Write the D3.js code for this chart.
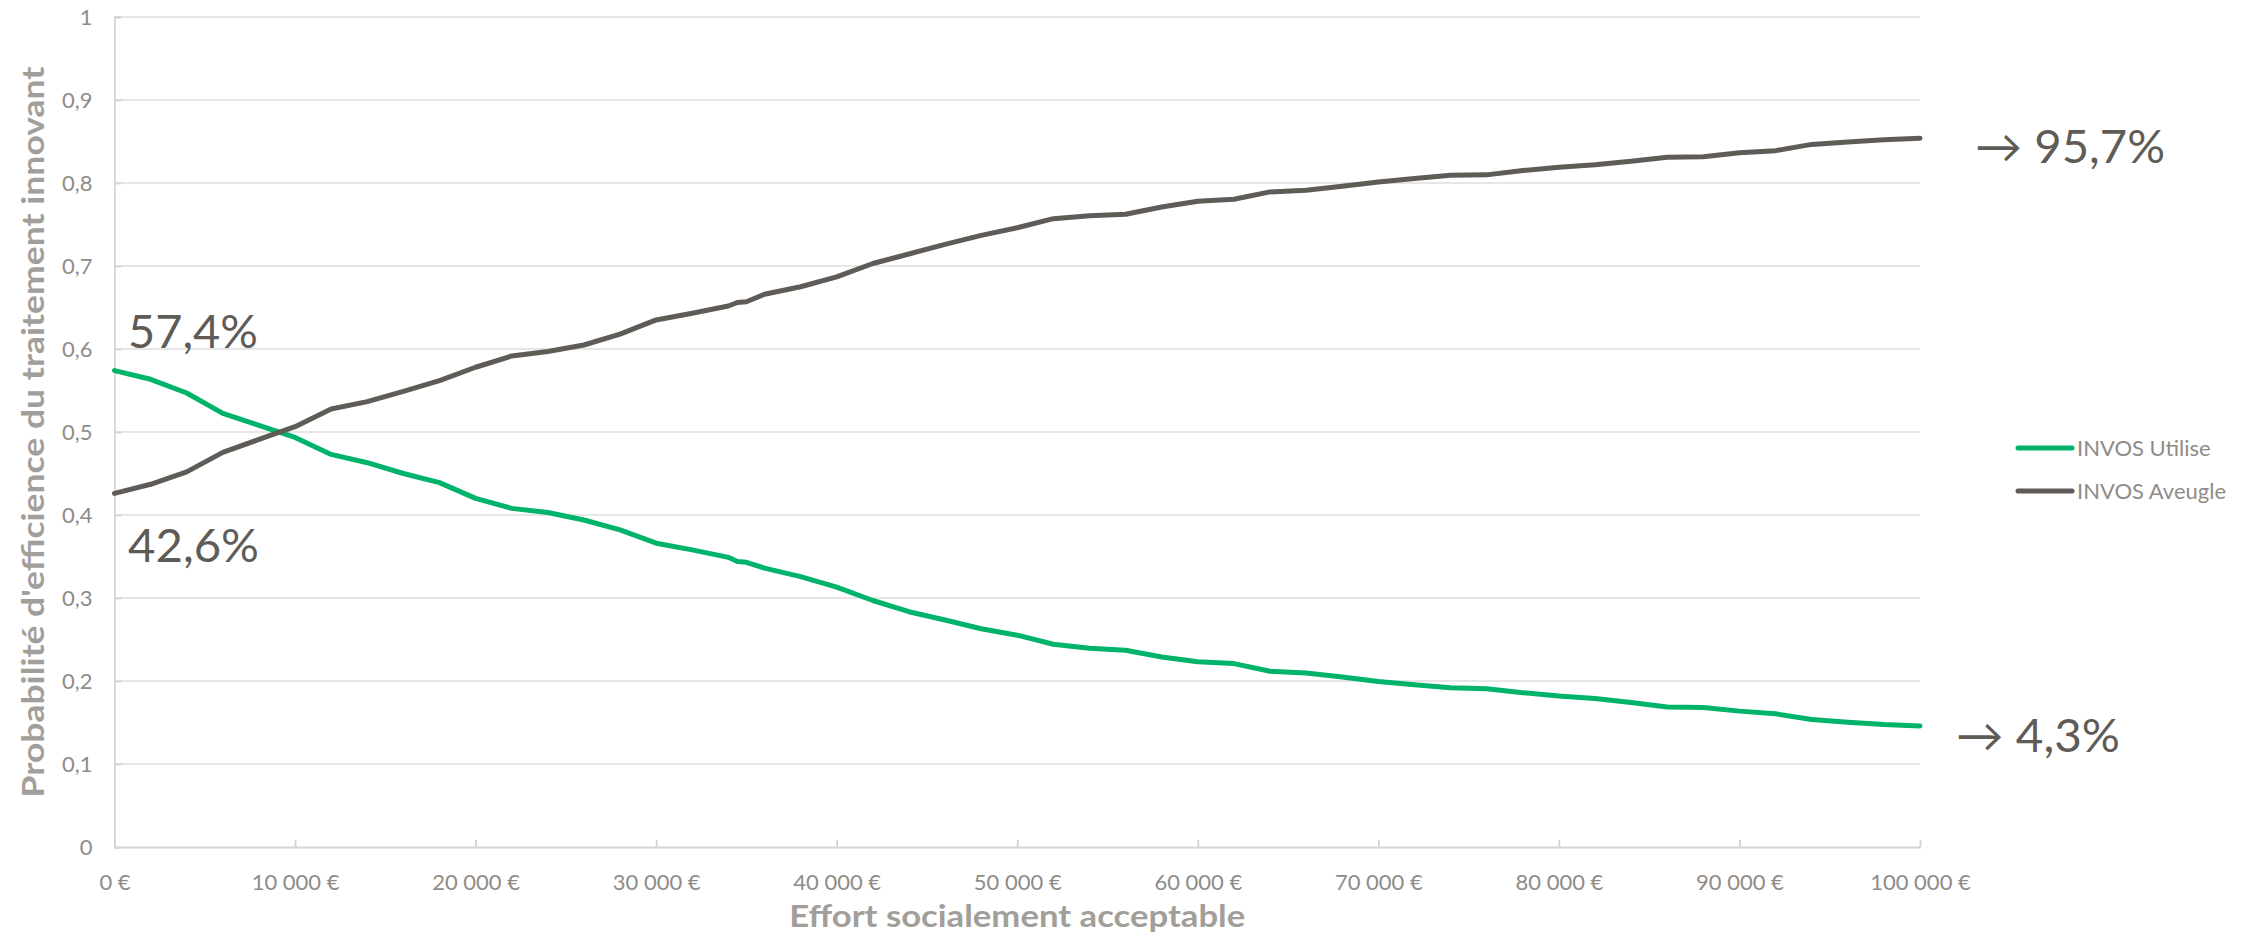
<!DOCTYPE html>
<html lang="fr">
<head>
<meta charset="utf-8">
<script src="https://cdn.jsdelivr.net/npm/d3@7"></script>
<style>
  html, body { margin: 0; padding: 0; background: #fff; }
  svg { display: block; font-family: Lato, "Open Sans", "DejaVu Sans", sans-serif; }
</style>
</head>
<body>
<svg id="chart" width="2246" height="937"></svg>
<script>
// Effort socialement acceptable (€)
const costs = [
  0, 2000, 4000, 6000, 8000, 10000, 12000, 14000, 16000, 18000,
  20000, 22000, 24000, 26000, 28000, 30000, 32000, 34000, 34500, 35000,
  36000, 38000, 40000, 42000, 44000, 46000, 48000, 50000, 52000, 54000,
  56000, 58000, 60000, 62000, 64000, 66000, 68000, 70000, 72000, 74000,
  76000, 78000, 80000, 82000, 84000, 86000, 88000, 90000, 92000, 94000,
  96000, 98000, 100000
];

// Probabilité d'efficience — INVOS utilisé
const invosUtilise = [
  0.574, 0.5635, 0.547, 0.5225, 0.508, 0.4935, 0.473, 0.463, 0.450, 0.439,
  0.420, 0.408, 0.403, 0.394, 0.382, 0.366, 0.358, 0.349, 0.344, 0.343,
  0.336, 0.3257, 0.313, 0.297, 0.2835, 0.2735, 0.263, 0.2552, 0.2443, 0.2394,
  0.237, 0.2289, 0.2233, 0.221, 0.2117, 0.2096, 0.2048, 0.1995, 0.1955, 0.1919,
  0.1907, 0.1859, 0.1819, 0.179, 0.1742, 0.1686, 0.1681, 0.1637, 0.1605, 0.1536,
  0.1504, 0.1476, 0.1459
];

// Probabilité d'efficience — INVOS aveugle
const invosAveugle = [
  0.426, 0.437, 0.452, 0.4755, 0.491, 0.5064, 0.5277, 0.5366, 0.549, 0.5618,
  0.578, 0.5916, 0.597, 0.6048, 0.618, 0.635, 0.643, 0.6518, 0.656, 0.657,
  0.6659, 0.675, 0.687, 0.703, 0.7145, 0.726, 0.7369, 0.7461, 0.757, 0.7606,
  0.7623, 0.7711, 0.778, 0.7804, 0.7893, 0.7912, 0.796, 0.8013, 0.8053, 0.8094,
  0.8098, 0.815, 0.819, 0.822, 0.8263, 0.831, 0.8316, 0.8364, 0.839, 0.8465,
  0.8493, 0.852, 0.854
];

const seriesNames = ["INVOS Utilise", "INVOS Aveugle"];
const seriesColors = ["#00b36b", "#5f5b57"];

const xTicks = [0, 10000, 20000, 30000, 40000, 50000, 60000, 70000, 80000, 90000, 100000];
const yTicks = [0, 0.1, 0.2, 0.3, 0.4, 0.5, 0.6, 0.7, 0.8, 0.9, 1];

const startLabels = ["57,4%", "42,6%"];
const endLabels = ["→ 4,3%", "→ 95,7%"];

const xTitle = "Effort socialement acceptable";
const yTitle = "Probabilité d'efficience du traitement innovant";

// ---- layout ----
const svg = d3.select("#chart");
const plot = { left: 114.5, right: 1920, top: 17, bottom: 847 };

const fr = d3.formatLocale({
  decimal: ",",
  thousands: "\u00a0",
  grouping: [3],
  currency: ["", "\u00a0€"]
});
const fmtEuro = fr.format("$,.0f");
const fmtProb = fr.format(".1~f");

const x = d3.scaleLinear().domain([0, 100000]).range([plot.left, plot.right]);
const y = d3.scaleLinear().domain([0, 1]).range([plot.bottom, plot.top]);

const gridColor = "#dedede";
const tickTextColor = "#8f8b87";
const titleColor = "#a29e9a";

// horizontal gridlines
svg.append("g")
  .selectAll("line")
  .data(yTicks.filter(d => d > 0))
  .join("line")
  .attr("x1", plot.left).attr("x2", plot.right)
  .attr("y1", d => y(d)).attr("y2", d => y(d))
  .attr("stroke", gridColor).attr("stroke-width", 1.6);

// y axis
const yAxis = svg.append("g")
  .attr("transform", `translate(${plot.left},0)`)
  .call(d3.axisLeft(y).tickValues(yTicks).tickFormat(fmtProb).tickSize(-7).tickPadding(22));
yAxis.select(".domain").attr("stroke", "#d6d6d6").attr("stroke-width", 1.8);
yAxis.selectAll(".tick line").attr("stroke", "#d3d3d3").attr("stroke-width", 1.8);
yAxis.selectAll(".tick text")
  .attr("fill", tickTextColor)
  .attr("font-size", 22)
  .attr("font-family", "Lato, sans-serif");

// x axis
const xAxis = svg.append("g")
  .attr("transform", `translate(0,${plot.bottom})`)
  .call(d3.axisBottom(x).tickValues(xTicks).tickFormat(fmtEuro).tickSize(-7).tickPadding(27).tickSizeOuter(0));
xAxis.select(".domain").attr("stroke", "#d6d6d6").attr("stroke-width", 2);
xAxis.selectAll(".tick line").attr("stroke", "#d3d3d3").attr("stroke-width", 1.8);
xAxis.selectAll(".tick text")
  .attr("fill", tickTextColor)
  .attr("font-size", 22)
  .attr("font-family", "Lato, sans-serif");

// axis titles
svg.append("text")
  .attr("x", (plot.left + plot.right) / 2)
  .attr("y", 927)
  .attr("text-anchor", "middle")
  .attr("fill", titleColor)
  .attr("font-size", 30)
  .attr("font-weight", "bold")
  .attr("textLength", 456)
  .attr("lengthAdjust", "spacingAndGlyphs")
  .text(xTitle);

svg.append("text")
  .attr("transform", `translate(44,${(plot.top + plot.bottom) / 2}) rotate(-90)`)
  .attr("text-anchor", "middle")
  .attr("fill", titleColor)
  .attr("font-size", 30)
  .attr("font-weight", "bold")
  .attr("textLength", 731)
  .attr("lengthAdjust", "spacingAndGlyphs")
  .text(yTitle);

// series lines
const series = [invosUtilise, invosAveugle];
const line = d3.line()
  .x((d, i) => x(costs[i]))
  .y(d => y(d));

svg.append("g")
  .selectAll("path")
  .data(series)
  .join("path")
  .attr("d", d => line(d))
  .attr("fill", "none")
  .attr("stroke", (d, i) => seriesColors[i])
  .attr("stroke-width", 5)
  .attr("stroke-linejoin", "round")
  .attr("stroke-linecap", "round");

// value labels at the start of each curve
const labelColor = "#5f5b57";
svg.append("text")
  .attr("x", 128).attr("y", 348)
  .attr("fill", labelColor).attr("font-size", 46)
  .attr("textLength", 130).attr("lengthAdjust", "spacingAndGlyphs")
  .text(startLabels[0]);
svg.append("text")
  .attr("x", 128).attr("y", 562)
  .attr("fill", labelColor).attr("font-size", 46)
  .attr("textLength", 131).attr("lengthAdjust", "spacingAndGlyphs")
  .text(startLabels[1]);

// limit labels at the right of each curve
svg.append("text")
  .attr("x", 1975).attr("y", 163)
  .attr("fill", labelColor).attr("font-size", 46)
  .attr("textLength", 190).attr("lengthAdjust", "spacingAndGlyphs")
  .text(endLabels[1]);
svg.append("text")
  .attr("x", 1956).attr("y", 752)
  .attr("fill", labelColor).attr("font-size", 46)
  .attr("textLength", 164).attr("lengthAdjust", "spacingAndGlyphs")
  .text(endLabels[0]);

// legend
const legend = svg.append("g").attr("transform", "translate(2018,448)");
const items = legend.selectAll("g")
  .data(seriesNames)
  .join("g")
  .attr("transform", (d, i) => `translate(0,${i * 43})`);
items.append("line")
  .attr("x1", 0).attr("x2", 54)
  .attr("stroke", (d, i) => seriesColors[i])
  .attr("stroke-width", 5)
  .attr("stroke-linecap", "round");
items.append("text")
  .attr("x", 59)
  .attr("dy", "0.35em")
  .attr("fill", tickTextColor)
  .attr("font-size", 22)
  .text(d => d);
</script>
</body>
</html>
